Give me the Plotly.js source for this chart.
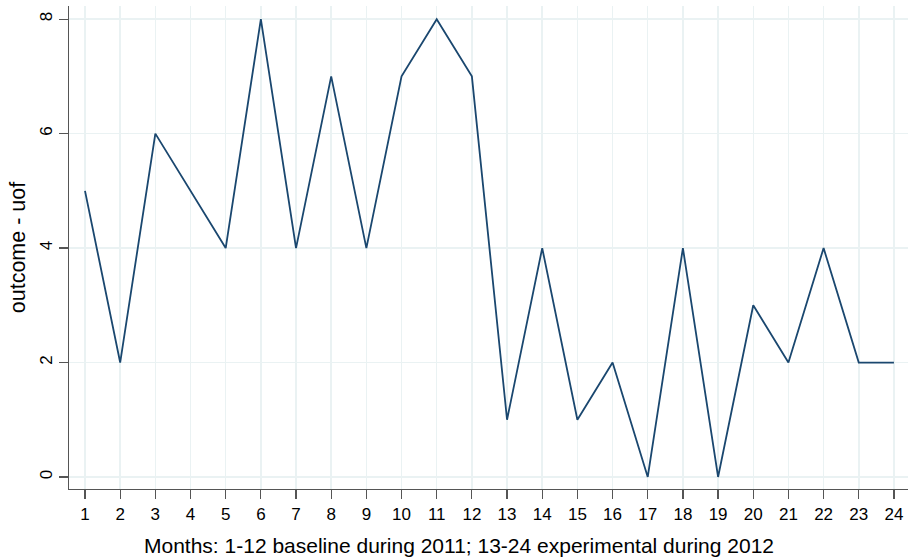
<!DOCTYPE html>
<html>
<head>
<meta charset="utf-8">
<script src="https://cdn.plot.ly/plotly-3.0.1.min.js"></script>
<style>html,body{margin:0;padding:0;background:#fff;}#chart{width:909px;height:557px;}</style>
</head>
<body>
<div id="chart"></div>
<script>
const months = [1,2,3,4,5,6,7,8,9,10,11,12,13,14,15,16,17,18,19,20,21,22,23,24];
const uof = [5,2,6,5,4,8,4,7,4,7,8,7,1,4,1,2,0,4,0,3,2,4,2,2];
const yTicks = [0,2,4,6,8];
const xTitle = 'Months: 1-12 baseline during 2011; 13-24 experimental during 2012';
const yTitle = 'outcome - uof';

const trace = {
  x: months, y: uof, type: 'scatter', mode: 'lines',
  line: {color: '#1a476f', width: 1.8}, hoverinfo: 'x+y'
};
const fam = 'Liberation Sans, Arial, sans-serif';
const tickFont = {family: fam, size: 17, color: '#000'};
const titleFont = {family: fam, size: 21, color: '#000'};
const layout = {
  width: 909, height: 557,
  margin: {l: 69, r: 1, t: 6, b: 68},
  paper_bgcolor: '#fff', plot_bgcolor: '#fff',
  showlegend: false,
  font: tickFont,
  xaxis: {
    range: [0.545, 24.4], tickmode: 'array', tickvals: months, ticktext: months.map(String),
    showgrid: true, gridcolor: '#eaf2f3', gridwidth: 1.5, zeroline: false,
    showline: true, linecolor: '#555', linewidth: 1.2,
    ticks: 'outside', ticklen: 9, tickcolor: '#555', tickwidth: 1.2, tickfont: tickFont
  },
  yaxis: {
    range: [-0.21, 8.23], tickmode: 'array', tickvals: yTicks, ticktext: yTicks.map(String),
    showgrid: true, gridcolor: '#eaf2f3', gridwidth: 1.5, zeroline: false,
    showline: true, linecolor: '#555', linewidth: 1.2,
    ticks: 'outside', ticklen: 9, tickcolor: '#555', tickwidth: 1.2, tickangle: -90, tickfont: tickFont,
    title: {text: yTitle, font: {family: fam, size: 21.5, color: '#000'}, standoff: 5}
  },
  annotations: [{
    text: xTitle, xref: 'paper', yref: 'paper', x: 0.465, y: 0,
    xanchor: 'center', yanchor: 'middle', yshift: -56, showarrow: false, font: titleFont
  }]
};
Plotly.newPlot('chart', [trace], layout, {displayModeBar: false, staticPlot: true});
</script>
</body>
</html>
